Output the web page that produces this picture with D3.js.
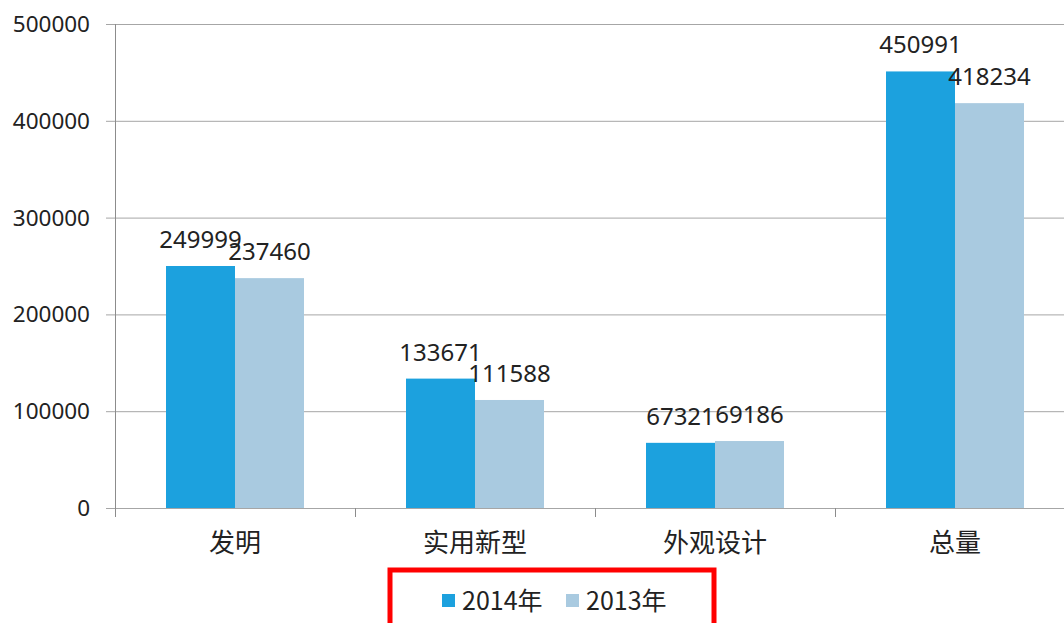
<!DOCTYPE html>
<html>
<head>
<meta charset="utf-8">
<script src="https://cdn.jsdelivr.net/npm/d3@7"></script>
<style>
  body { margin: 0; background: #fff; }
  svg { display: block; }
</style>
</head>
<body>
<script>
// chart data
const categories = ["发明", "实用新型", "外观设计", "总量"];
const seriesNames = ["2014年", "2013年"];
const values2014 = [249999, 133671, 67321, 450991];
const values2013 = [237460, 111588, 69186, 418234];
const yTicks = [0, 100000, 200000, 300000, 400000, 500000];

const colors = ["#1ca1de", "#a9cae0"];

// size of the picture
const width = 1064;
const height = 623;

// plot area
const plotLeft = 115, plotRight = 1075, plotTop = 24, plotBottom = 508;

let svg = d3.select("body").append("svg")
  .attr("width", width)
  .attr("height", height);

let x = d3.scaleBand().domain(categories).range([plotLeft, plotRight]);
let xSub = d3.scaleBand().domain(seriesNames).range([51, 189]);
let y = d3.scaleLinear().domain([0, 500000]).range([plotBottom, plotTop]);

// gridlines and y labels
svg.selectAll(".grid").data(yTicks).enter().append("line")
  .attr("x1", plotLeft - 9)
  .attr("x2", width)
  .attr("y1", d => y(d) + 0.5)
  .attr("y2", d => y(d) + 0.5)
  .attr("stroke", "#a6a6a6")
  .attr("stroke-width", 1);

svg.selectAll(".ylab").data(yTicks).enter().append("text")
  .attr("x", 90)
  .attr("y", d => y(d) + 8)
  .attr("text-anchor", "end")
  .attr("font-family", "'Noto Sans', sans-serif")
  .attr("font-size", 22.5)
  .attr("fill", "#222")
  .text(d => d);

// y axis line
svg.append("line")
  .attr("x1", plotLeft + 0.5).attr("x2", plotLeft + 0.5)
  .attr("y1", plotTop).attr("y2", plotBottom + 9)
  .attr("stroke", "#8c8c8c");

// x tick marks between categories
svg.selectAll(".xtick").data(categories.slice(1)).enter().append("line")
  .attr("x1", d => x(d) + 0.5).attr("x2", d => x(d) + 0.5)
  .attr("y1", plotBottom).attr("y2", plotBottom + 9)
  .attr("stroke", "#8c8c8c");

// bars
const allSeries = [values2014, values2013];
allSeries.forEach(function(vals, si) {
  let g = svg.append("g");
  g.selectAll("rect").data(vals).enter().append("rect")
    .attr("x", (d, i) => x(categories[i]) + xSub(seriesNames[si]))
    .attr("y", d => y(d))
    .attr("width", xSub.bandwidth())
    .attr("height", d => y(0) - y(d))
    .attr("fill", colors[si]);
});

// value labels, drawn after the bars
allSeries.forEach(function(vals, si) {
  svg.append("g").selectAll("text").data(vals).enter().append("text")
    .attr("x", (d, i) => x(categories[i]) + xSub(seriesNames[si]) + xSub.bandwidth() / 2)
    .attr("y", d => y(d) - 18)
    .attr("text-anchor", "middle")
    .attr("font-family", "'Noto Sans', sans-serif")
    .attr("font-size", 24)
    .attr("fill", "#222")
    .text(d => d);
});

// category labels
svg.selectAll(".xlab").data(categories).enter().append("text")
  .attr("x", d => x(d) + x.bandwidth() / 2)
  .attr("y", plotBottom + 44)
  .attr("text-anchor", "middle")
  .attr("font-family", "'Noto Sans CJK SC', sans-serif")
  .attr("font-size", 26)
  .attr("fill", "#222")
  .text(d => d);

// legend with the red frame
svg.append("rect")
  .attr("x", 390)
  .attr("y", 570)
  .attr("width", 324)
  .attr("height", 70)
  .attr("fill", "none")
  .attr("stroke", "#ff0000")
  .attr("stroke-width", 5);

const legendX = [442, 566];
seriesNames.forEach(function(name, i) {
  svg.append("rect")
    .attr("x", legendX[i])
    .attr("y", 594)
    .attr("width", 13)
    .attr("height", 13)
    .attr("fill", colors[i]);
  svg.append("text")
    .attr("x", legendX[i] + 20)
    .attr("y", 610)
    .attr("font-family", "'Noto Sans CJK SC', sans-serif")
    .attr("font-size", 25)
    .attr("fill", "#222")
    .text(name);
});
</script>
</body>
</html>
